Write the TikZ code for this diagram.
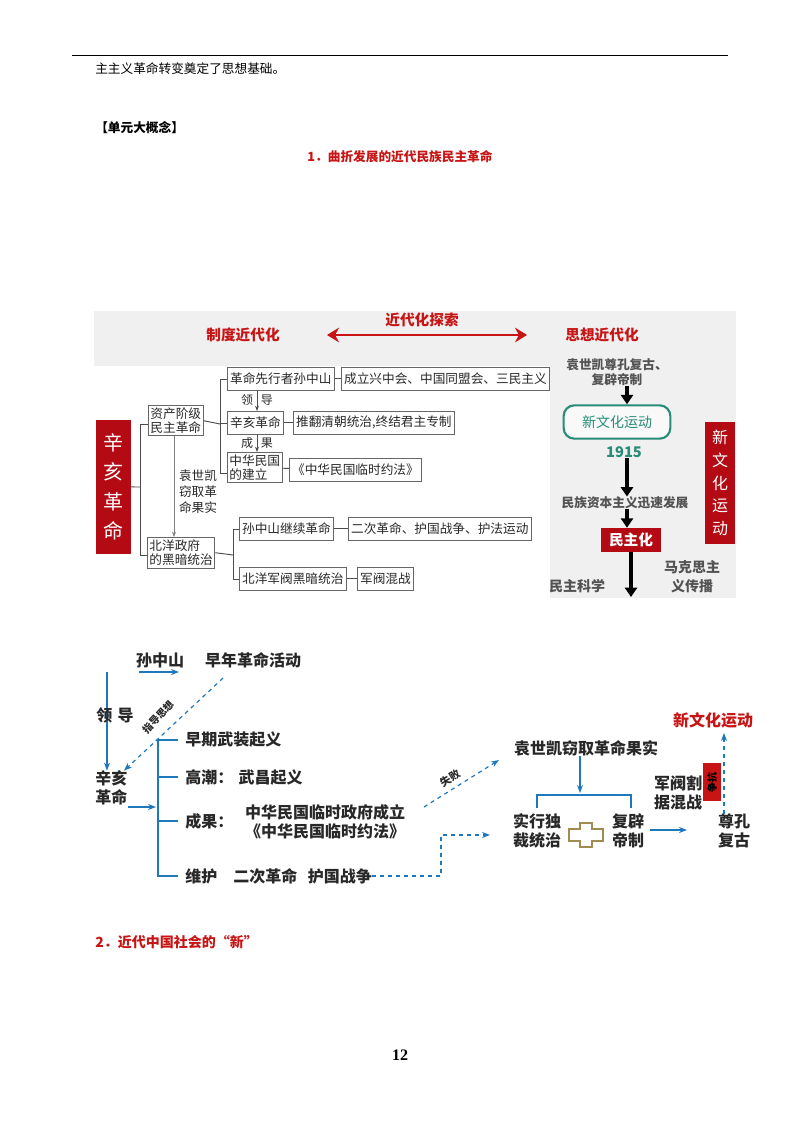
\documentclass[tikz,border=0pt]{standalone}
\usepackage{fontspec}
\setmainfont{Noto Sans CJK SC}
\newfontfamily\serifnum{Liberation Serif}
\usetikzlibrary{arrows.meta}
\definecolor{myred}{RGB}{200,20,20}
\definecolor{darkred}{RGB}{180,10,20}
\definecolor{blu}{RGB}{30,120,190}
\definecolor{teal2}{RGB}{40,140,120}
\definecolor{txt}{RGB}{40,40,40}
\tikzset{
 bx/.style={draw=gray!80!black,line width=0.7pt,fill=white,minimum height=17pt,inner sep=2pt,font=\fontsize{9.5}{11}\selectfont,text=txt,anchor=north west},
 ln/.style={draw=gray!60!black,line width=0.7pt},
 bigarr/.style={line width=3pt,-{Triangle[width=9pt,length=7pt]}},
 bl/.style={blu,line width=1pt,-{Stealth[length=6pt]}},
 bld/.style={blu,line width=0.9pt,dashed,-{Stealth[length=6pt]}},
 bt/.style={font=\fontsize{12}{14}\selectfont\bfseries,text=txt,inner sep=0pt},
 ht/.style={font=\fontsize{9.5}{11}\selectfont\bfseries,text=txt!80,inner sep=0pt},
}
\begin{document}
\begin{tikzpicture}[x=0.75pt,y=-0.75pt]
\useasboundingbox (0,0) rectangle (800,1132);
\fill[white] (0,0) rectangle (800,1132);
\draw[line width=0.6pt] (72,55) -- (728,55);
\node[anchor=west,inner sep=0,font=\fontsize{9.5}{11}\selectfont] (t1) at (95,69) {主主义革命转变奠定了思想基础。};
\node[anchor=west,inner sep=0,font=\fontsize{9.5}{11}\selectfont\bfseries] (t2) at (95,128) {【单元大概念】};
\node[inner sep=0,font=\fontsize{9.5}{11}\selectfont\bfseries,text=myred] (t3) at (400,157) {1．曲折发展的近代民族民主革命};
% panel
\fill[gray!12] (94,311) rectangle (736,598);
\fill[white] (94,366) rectangle (550,598);
\node[font=\fontsize{11}{13}\selectfont\bfseries,text=myred,inner sep=0] (zd) at (243,335) {制度近代化};
\coordinate (al) at (327,335); \coordinate (ar) at (527,335);
\draw[myred,line width=2.2pt,{Stealth[length=9pt,width=11pt]}-{Stealth[length=9pt,width=11pt]}] (al) -- (ar);
\node[font=\fontsize{11}{13}\selectfont\bfseries,text=myred,inner sep=0] (jd) at (422,320) {近代化探索};
\node[font=\fontsize{11}{13}\selectfont\bfseries,text=myred,inner sep=0] (sx) at (602,335) {思想近代化};
\node[fill=darkred,minimum width=26pt,minimum height=100pt,text=white,font=\fontsize{15}{22}\selectfont,align=center,anchor=north west,inner sep=0] (xh) at (96,420) {辛\\亥\\革\\命};
\node[bx,align=left,minimum height=0pt,inner sep=1.5pt] (zc) at (148,405) {资产阶级\\民主革命};
\node[bx,align=left,minimum height=0pt,inner sep=1.5pt] (by) at (147,537) {北洋政府\\的黑暗统治};
\draw[ln] (xh.east) -- (140,487) coordinate (b0);
\draw[ln] (140,424) -- (140,555) ;
\draw[ln] (140,424) -- (zc.west|-140,424);
\draw[ln] (140,555) -- (by.west|-140,555);
\draw[gray,line width=0.5pt,-{Stealth[length=4pt]}] (zc.south-|174,0) -- (by.north-|174,0);
\node[align=left,font=\fontsize{9.5}{12}\selectfont,text=txt,inner sep=0] (ys) at (198,492) {袁世凯\\窃取革\\命果实};
\node[bx] (s1) at (227,367) {革命先行者孙中山};
\node[bx] (s2) at (227,411) {辛亥革命};
\node[bx,align=left,minimum height=0pt,inner sep=1.5pt] (s3) at (227,452) {中华民国\\的建立};
\node[bx] (r1) at (341,367) {成立兴中会、中国同盟会、三民主义};
\node[bx] (r2) at (293,411) {推翻清朝统治,终结君主专制};
\node[bx] (r3) at (289,458) {《中华民国临时约法》};
\draw[ln] (zc.east) -- (220,424);
\draw[ln] (220,379) -- (220,473);
\draw[ln] (220,379) -- (s1.west|-220,379);
\draw[ln] (220,423) -- (s2.west|-220,423);
\draw[ln] (220,473) -- (s3.west|-220,473);
\draw[ln] (s1) -- (r1); \draw[ln] (s2) -- (r2); \draw[ln] (s3) -- (r3);
\draw[ln,-{Stealth[length=4pt]}] (s1.south-|257,0) -- (s2.north-|257,0);
\draw[ln,-{Stealth[length=4pt]}] (s2.south-|257,0) -- (s3.north-|257,0);
\node[font=\fontsize{9}{11}\selectfont,text=txt,inner sep=0] (l1) at (257,400) {领\hspace{6pt}导};
\node[font=\fontsize{9}{11}\selectfont,text=txt,inner sep=0] (l2) at (257,443) {成\hspace{6pt}果};
\node[bx] (p1) at (239,517) {孙中山继续革命};
\node[bx] (p2) at (348,517) {二次革命、护国战争、护法运动};
\node[bx] (p3) at (239,567) {北洋军阀黑暗统治};
\node[bx] (p4) at (357,567) {军阀混战};
\draw[ln] (by.east) -- (233,555);
\draw[ln] (233,529) -- (233,579);
\draw[ln] (233,529) -- (p1.west|-233,529);
\draw[ln] (233,579) -- (p3.west|-233,579);
\draw[ln] (p1) -- (p2); \draw[ln] (p3) -- (p4);
% right column
\node[ht,align=center] (yf) at (617,372) {袁世凯尊孔复古、\\复辟帝制};
\node[draw=teal2,line width=1.6pt,rounded corners=8pt,minimum width=80pt,minimum height=25pt,text=teal2,font=\fontsize{10.5}{12}\selectfont,fill=gray!5] (xw) at (617,422) {新文化运动};
\node[text=teal2,font=\fontsize{11}{12}\selectfont\bfseries,inner sep=0] (y15) at (624,452) {1915};
\node[ht] (mz) at (625,503) {民族资本主义迅速发展};
\node[fill=darkred,text=white,font=\fontsize{11}{12}\selectfont\bfseries,minimum width=45pt,minimum height=18pt,inner sep=0] (mzh) at (631,540) {民主化};
\coordinate (bot) at (631,597);
\draw[bigarr] (yf.south-|627,0) -- (xw.north-|627,0);
\draw[bigarr] (y15.south-|627,0) -- (mz.north-|627,0);
\draw[bigarr] (mz.south-|627,0) -- (mzh.north-|627,0);
\draw[bigarr] (mzh.south) -- (bot);
\node[ht,font=\fontsize{10.5}{12}\selectfont\bfseries] (mk) at (577,586) {民主科学};
\node[ht,align=center,font=\fontsize{10.5}{14}\selectfont\bfseries] (mks) at (692,577) {马克思主\\义传播};
\node[fill=darkred,text=white,font=\fontsize{12}{17}\selectfont,align=center,minimum width=23pt,minimum height=92pt,inner sep=0] (xwr) at (720,483) {新\\文\\化\\运\\动};
% bottom diagram
\node[bt] (szs) at (160,660) {孙中山};
\node[bt] (zn) at (253,660) {早年革命活动};
\draw[bl] (139,672) -- (179,672);
\node[bt,align=left,anchor=west] (xhb) at (95,788) {辛亥\\革命};
\draw[bl] (107,672) -- (xhb.north-|107,0);
\node[bt] (ld) at (115,715) {领\hspace{4pt}导};
\draw[bld] (zn.south)++(-30,10) -- (xhb.north-|124,0);
\node[font=\fontsize{7.5}{9}\selectfont\bfseries,text=txt,rotate=47,inner sep=0] (zd2) at (158,717) {指导思想};
\draw[bl] (128,807) -- (156,807);
\draw[blu,line width=1pt] (178,740) -- (158,740) -- (158,876) -- (178,876);
\draw[blu,line width=1pt] (158,777) -- (178,777);
\draw[blu,line width=1pt] (158,821) -- (178,821);
\node[bt,anchor=west] (e1) at (185,740) {早期武装起义};
\node[bt,anchor=west] (e2) at (185,777) {高潮：\hspace{4pt}武昌起义};
\node[bt,anchor=west] (e3) at (185,821) {成果：};
\node[bt,align=center] (e3b) at (325,822) {中华民国临时政府成立\\《中华民国临时约法》};
\node[bt,anchor=west] (e4) at (185,876) {维护\hspace{12pt}二次革命\hspace{8pt}护国战争};
\node[bt] (ysk) at (586,748) {袁世凯窃取革命果实};
\draw[bld] (424,807) -- (499,760);
\node[font=\fontsize{8}{9}\selectfont\bfseries,text=txt,rotate=32,inner sep=0] (sb) at (450,778) {失败};
\draw[bld] (e4.east) -- (441,876) -- (441,835) -- (490,835);
\draw[bl] (ysk.south-|580,0) -- (580,793);
\draw[blu,line width=1pt] (537,808) -- (537,795) -- (631,795) -- (631,808);
\node[bt,align=center] (sx2) at (537,831) {实行独\\裁统治};
\node[bt,align=center] (fb) at (628,831) {复辟\\帝制};
\draw[draw={rgb,255:red,160;green,140;blue,80},line width=1.3pt] (580,823)--(592,823)--(592,829)--(603,829)--(603,841)--(592,841)--(592,847)--(580,847)--(580,841)--(569,841)--(569,829)--(580,829)--cycle;
\node[bt,align=center] (jf) at (678,793) {军阀割\\据混战};
\node[bt,align=center] (zk) at (734,831) {尊孔\\复古};
\draw[bl] (650,830) -- (687,830);
\node[fill=myred,minimum width=14pt,minimum height=29pt,inner sep=0] (zkb) at (712,782) {};
\node[rotate=90,font=\fontsize{7.5}{8}\selectfont\bfseries,inner sep=0] at (zkb) {争抗};
\node[font=\fontsize{12}{14}\selectfont\bfseries,text=myred,inner sep=0] (xwb) at (713,720) {新文化运动};
\draw[bld] (zk.north-|724,0) -- (724,733);
\node[font=\serifnum\fontsize{12}{14}\selectfont\bfseries,inner sep=0] (pg) at (400,1055) {12};
\node[font=\fontsize{10.5}{12}\selectfont\bfseries,text=myred,anchor=west,inner sep=0] (t4) at (95,942) {2．近代中国社会的“新”};
\end{tikzpicture}
\end{document}
